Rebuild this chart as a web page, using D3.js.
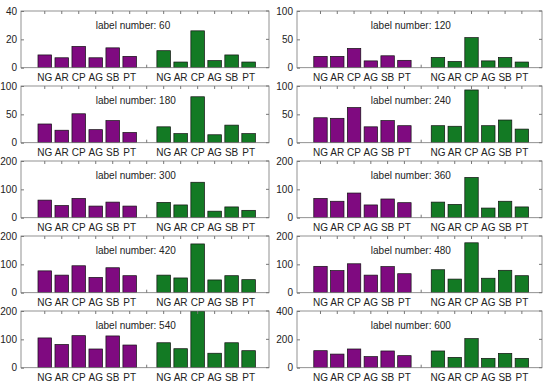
<!DOCTYPE html>
<html>
<head>
<meta charset="utf-8">
<script src="https://cdn.jsdelivr.net/npm/d3@7"></script>
<style>
  body { margin: 0; background: #fff; }
  text { font-family: "Liberation Sans", Arial, sans-serif; fill: #222; }
</style>
</head>
<body>
<script>
// chart data
const categories = ['NG', 'AR', 'CP', 'AG', 'SB', 'PT'];
const labelNumbers = [60, 120, 180, 240, 300, 360, 420, 480, 540, 600];
const yMax = [40, 100, 100, 100, 200, 200, 200, 200, 200, 400];

const purpleVals = [
  [9, 7, 15, 7, 14, 8],
  [20, 20, 34, 12, 21, 13],
  [33, 22, 51, 23, 39, 18],
  [44, 43, 62, 28, 39, 30],
  [62, 43, 68, 41, 55, 41],
  [68, 58, 87, 45, 66, 53],
  [77, 62, 95, 54, 88, 60],
  [93, 78, 102, 62, 92, 67],
  [105, 82, 113, 66, 112, 80],
  [120, 96, 132, 78, 118, 85]
];
const greenVals = [
  [12, 4, 26, 5, 9, 4],
  [18, 11, 53, 12, 18, 10],
  [28, 16, 81, 14, 31, 16],
  [30, 29, 93, 30, 40, 24],
  [54, 45, 125, 23, 38, 26],
  [55, 47, 142, 34, 58, 38],
  [62, 52, 172, 45, 60, 46],
  [81, 48, 176, 51, 79, 60],
  [88, 67, 200, 51, 88, 60],
  [118, 73, 205, 66, 101, 66]
];

const WIDTH = 550;
const HEIGHT = 387;
const purple = '#7f0a80';
const green = '#137a24';

const svg = d3.select('body').append('svg')
    .attr('width', WIDTH)
    .attr('height', HEIGHT);

const cols = [[21, 269], [297, 542]];
const rowTop = [11, 86, 161, 236, 311];
const plotH = 56.7;

labelNumbers.forEach((num, i) => {
  const r = Math.floor(i / 2);
  const c = i % 2;
  const [x0, x1] = cols[c];
  const top = rowTop[r];
  const bottom = top + plotH;

  const x = d3.scaleLinear().domain([-0.4, 14.2]).range([x0, x1]);
  const y = d3.scaleLinear().domain([0, yMax[i]]).range([bottom, top]);

  const g = svg.append('g');
  const clipId = 'clip' + i;
  g.append('clipPath').attr('id', clipId)
    .append('rect')
      .attr('x', x0).attr('y', top)
      .attr('width', x1 - x0).attr('height', plotH);

  const bars = [];
  purpleVals[i].forEach((v, k) => bars.push({pos: k + 1, v: v, col: purple}));
  greenVals[i].forEach((v, k) => bars.push({pos: k + 8, v: v, col: green}));

  const bw = x(0.8) - x(0);
  g.append('g').attr('clip-path', `url(#${clipId})`)
    .selectAll('rect').data(bars).join('rect')
      .attr('x', d => x(d.pos) - bw / 2)
      .attr('y', d => y(d.v))
      .attr('width', bw)
      .attr('height', d => y(0) - y(d.v))
      .attr('fill', d => d.col)
      .attr('stroke', '#111')
      .attr('stroke-width', 0.7);

  // frame
  g.append('rect')
    .attr('x', x0).attr('y', top)
    .attr('width', x1 - x0).attr('height', plotH)
    .attr('fill', 'none')
    .attr('stroke', '#777')
    .attr('stroke-width', 0.8);

  // y axis
  const yTicks = [0, yMax[i] / 2, yMax[i]];
  const yAxis = d3.axisLeft(y).tickValues(yTicks).tickSize(-3).tickPadding(4);
  const ya = g.append('g').attr('transform', `translate(${x0},0)`).call(yAxis);
  ya.select('.domain').remove();
  ya.selectAll('line').attr('stroke', '#777');
  ya.selectAll('text').attr('font-size', 10).attr('fill', '#222')
    .style('font-family', '"Liberation Sans", Arial, sans-serif');
  // mirrored ticks on right
  g.append('g').selectAll('line').data(yTicks).join('line')
    .attr('x1', x1).attr('x2', x1 - 3)
    .attr('y1', d => y(d)).attr('y2', d => y(d))
    .attr('stroke', '#777');

  // x ticks top and bottom
  const xTickPos = d3.range(1, 14);
  g.append('g').selectAll('line').data(xTickPos).join('line')
    .attr('x1', d => x(d)).attr('x2', d => x(d))
    .attr('y1', top).attr('y2', top + 3)
    .attr('stroke', '#777');
  g.append('g').selectAll('line').data([7]).join('line')
    .attr('x1', d => x(d)).attr('x2', d => x(d))
    .attr('y1', bottom).attr('y2', bottom - 3)
    .attr('stroke', '#777');

  // category labels
  g.append('g').selectAll('text').data(bars).join('text')
    .attr('x', d => x(d.pos))
    .attr('y', bottom + 13)
    .attr('text-anchor', 'middle')
    .attr('font-size', 10)
    .text((d, k) => categories[k % 6]);

  // panel label
  g.append('text')
    .attr('x', x(4))
    .attr('y', y(yMax[i] * 0.75) + 3.5)
    .attr('font-size', 10)
    .text('label number: ' + num);
});
</script>
</body>
</html>
